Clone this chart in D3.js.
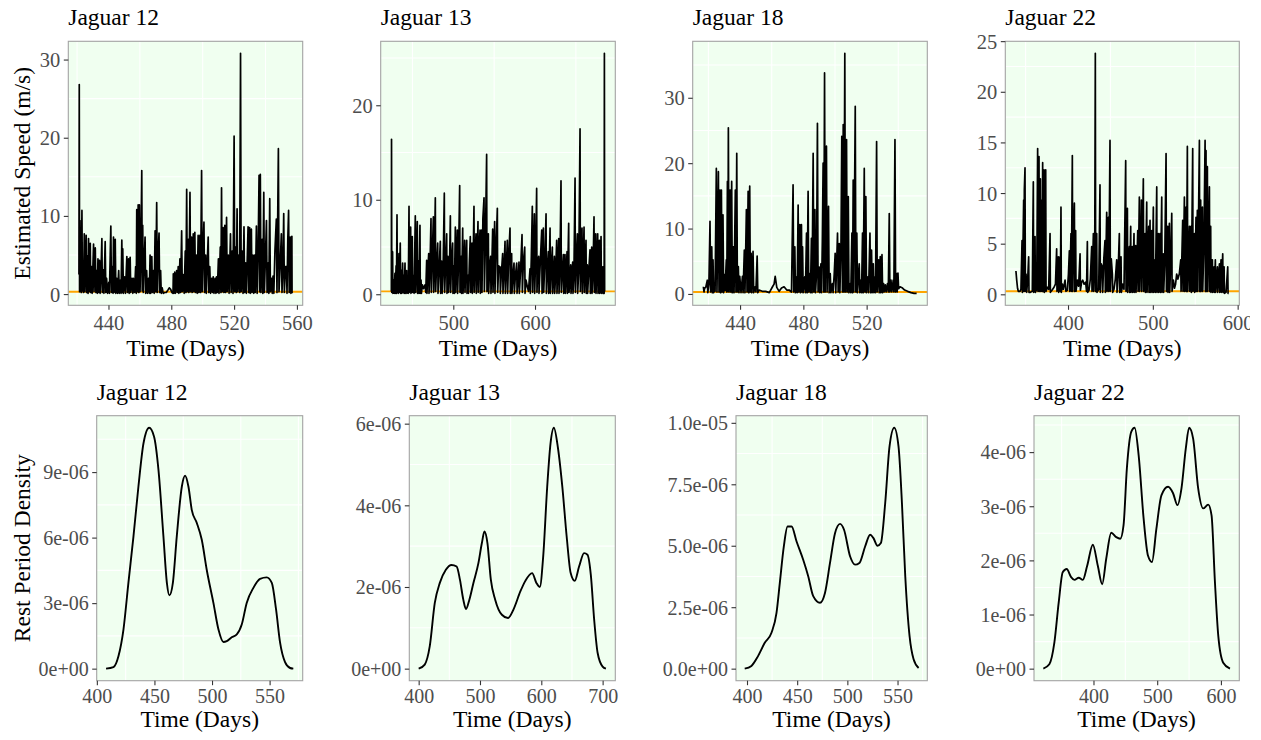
<!DOCTYPE html>
<html><head><meta charset="utf-8">
<script src="https://cdn.jsdelivr.net/npm/d3@7"></script>
<style>
body{margin:0;background:#fff}
svg{display:block}
text{font-family:"Liberation Serif","Times New Roman",serif}
</style>
</head><body>
<svg id="c" width="1261" height="740"></svg>
<script>
// ---------------- DATA ----------------
const jaguars = ["Jaguar 12", "Jaguar 13", "Jaguar 18", "Jaguar 22"];
const restThreshold = 0.3; // orange reference line (m/s)

// Estimated speed (m/s) over time (days): [day, speed]
const speed12 = [[421.2,2.5],[421.4,26.8],[421.6,0.3],[421.9,9.4],[422.1,0.5],[422.4,5.2],[422.7,0.2],[423.1,10.7],[423.4,0.4],[423.8,4.0],[424.1,0.2],[424.6,7.7],[424.9,0.3],[425.3,3.2],[425.8,7.5],[426.1,0.2],[426.6,4.9],[427,0.1],[427.3,7.1],[427.7,0.3],[428.4,6.5],[428.7,0.2],[429.2,3.5],[429.6,0.1],[430.5,6.4],[430.8,0.3],[431.2,4.6],[431.6,5.9],[432,0.2],[432.5,3.0],[432.9,0.1],[433.3,4.5],[433.7,0.2],[434.3,4.3],[434.7,0.1],[435.2,2.5],[435.8,7.1],[436.1,0.2],[436.7,3.1],[437.1,0.1],[437.9,6.7],[438.3,0.2],[438.8,2.0],[439.4,0.1],[440.2,1.5],[440.6,0.1],[441.5,8.7],[441.9,0.2],[442.5,3.5],[442.9,0.1],[443.2,7.3],[443.6,0.2],[444.3,7.0],[444.7,0.1],[445.3,2.0],[445.8,0.1],[446.5,3.0],[446.9,0.1],[447.6,1.8],[448,0.1],[448.5,6.9],[448.9,0.2],[449.1,5.8],[449.5,0.1],[450.3,2.2],[450.8,0.1],[451.7,4.8],[452.1,0.2],[452.8,4.5],[453.2,0.1],[453.8,4.7],[454.2,0.2],[455,2.0],[455.5,0.1],[455.9,2.0],[456.6,0.2],[457.3,3.5],[457.7,0.1],[458,10.8],[458.4,0.3],[458.9,11.4],[459.3,0.2],[459.7,11.4],[460.1,0.3],[460.6,5.0],[461.2,15.8],[461.5,0.4],[461.8,8.8],[462.2,0.2],[462.7,4.0],[463.3,7.3],[463.7,0.1],[464.3,3.0],[464.8,0.1],[465.5,2.0],[466,0.1],[466.5,5.0],[466.9,0.1],[467.6,4.8],[468,0.2],[468.7,3.0],[469.1,0.1],[469.7,8.1],[470.1,0.3],[470.7,11.7],[471.1,0.2],[471.6,5.0],[472.2,7.8],[472.6,0.2],[473.2,3.0],[473.6,0.1],[474.2,0.8],[474.9,0.1],[475.8,0.2],[476.8,0.2],[477.8,0.5],[478.7,0.8],[479.6,0.6],[480.4,0.2],[481.1,0.1],[481.3,2.6],[481.7,0.1],[482.2,2.8],[482.6,0.1],[483.4,3.0],[483.8,0.2],[484.4,3.5],[484.8,0.1],[485.5,4.5],[485.9,0.2],[486.6,8.1],[487,0.3],[487.6,2.5],[488.2,0.1],[488.9,5.5],[489.3,0.2],[489.8,13.4],[490.2,0.3],[490.8,7.0],[491.2,0.2],[491.9,13.0],[492.3,0.3],[492.9,7.3],[493.3,0.2],[494,7.7],[494.4,0.3],[495,7.9],[495.4,0.2],[496,5.0],[496.5,0.1],[497.1,7.5],[497.5,0.2],[498.2,7.5],[498.6,0.2],[499.3,15.8],[499.7,0.3],[500.2,5.5],[500.8,9.2],[501.2,0.2],[501.9,5.0],[502.3,0.1],[503,4.5],[503.5,7.3],[503.9,0.2],[504.5,3.5],[505,0.1],[505.7,2.0],[506.2,0.2],[506.7,2.2],[507.2,0.1],[507.9,2.0],[508.4,0.1],[508.8,2.2],[509.3,0.2],[510,4.5],[510.4,0.1],[511.2,6.0],[511.6,0.2],[512,13.6],[512.4,0.3],[513,8.5],[513.5,0.2],[514.1,8.8],[514.5,0.2],[515.2,9.8],[515.6,0.3],[516.3,5.0],[516.8,0.1],[517.7,7.7],[518.1,0.2],[518.8,5.5],[519.3,0.1],[520,20.2],[520.4,0.3],[521,6.0],[521.4,0.2],[521.9,10.9],[522.3,0.3],[523,5.0],[523.5,0.2],[524.1,30.8],[524.5,0.3],[525.2,5.5],[525.7,0.1],[526.3,8.6],[526.7,0.2],[527.4,4.0],[527.8,0.1],[528.9,8.6],[529.3,0.2],[529.9,8.5],[530.3,0.1],[531,8.3],[531.4,0.2],[532,5.0],[532.5,0.1],[533.1,5.0],[533.5,0.2],[534.2,8.7],[534.7,0.1],[535.4,7.0],[535.9,15.2],[536.3,0.3],[536.7,15.3],[537.1,0.2],[537.9,7.0],[538.3,0.1],[538.9,13.0],[539.3,0.2],[540,5.0],[540.6,9.4],[541,0.2],[541.7,4.0],[542.1,0.1],[542.7,12.2],[543.1,0.3],[543.8,2.0],[544.3,0.1],[544.8,2.3],[545.3,0.1],[546,5.5],[546.9,9.6],[547.3,0.2],[548.2,18.6],[548.6,0.3],[549.3,3.5],[550.1,7.7],[550.5,0.2],[551.1,3.5],[551.6,10.3],[552,0.2],[552.7,3.5],[553.3,3.5],[553.7,0.1],[554.2,7.0],[554.7,10.7],[555.1,0.2],[555.8,7.3],[556.2,0.1],[556.8,7.4],[556.9,0.1]];

const speed13 = [[424.2,0.3],[424.4,16.4],[424.7,0.2],[425.7,4.5],[426.1,0.1],[427.2,1.5],[427.6,0.1],[428.6,2.2],[429,0.1],[430,3.0],[430.4,0.1],[431.1,8.4],[431.5,0.2],[432.3,3.0],[432.7,0.1],[433.5,4.3],[433.9,0.2],[435.1,5.4],[435.5,0.1],[436.6,2.5],[437,0.1],[438,3.3],[438.4,0.2],[439.5,2.0],[439.9,0.1],[440.9,3.3],[441.3,0.1],[442.9,2.5],[443.3,0.1],[444.5,1.5],[444.9,0.1],[445.8,9.3],[446.2,0.2],[447.8,7.1],[448.2,0.1],[448.9,2.5],[449.8,6.1],[450.2,0.2],[451.5,2.0],[452,0.1],[453.5,8.3],[453.9,0.2],[454.8,3.0],[455.9,7.7],[456.3,0.1],[457.5,3.5],[458,0.1],[459.2,7.3],[459.6,0.1],[460.5,1.5],[461,0.1],[462.1,1.0],[463.5,0.6],[465.4,1.0],[466.3,0.2],[467.4,3.6],[467.8,0.1],[468.8,2.5],[469.9,4.3],[470.3,0.1],[471.5,3.0],[472.7,8.0],[473.1,0.2],[474.3,4.0],[475.6,8.2],[476,0.2],[477,4.5],[478,10.2],[478.4,0.3],[479.5,3.0],[480.9,5.4],[481.3,0.1],[482.6,2.5],[484.1,5.6],[484.5,0.1],[485.7,3.5],[486.4,0.1],[487.5,2.5],[489,10.7],[489.4,0.2],[490.5,3.0],[491.9,6.4],[492.3,0.1],[493.5,4.0],[494.2,0.2],[495.3,2.5],[496.4,8.3],[496.8,0.2],[497.8,3.5],[499.2,5.4],[499.6,0.1],[500.8,3.0],[501.3,0.1],[502.5,7.1],[502.9,0.2],[504.9,6.8],[505.3,0.1],[506.4,3.5],[507.8,11.5],[508.2,0.2],[509.6,4.0],[510.1,0.1],[511.5,7.0],[511.9,0.1],[513,2.5],[513.9,5.7],[514.3,0.2],[515.2,3.0],[516.4,5.7],[516.8,0.1],[518,2.0],[518.6,0.1],[519.7,3.5],[520.8,6.1],[521.2,0.2],[522.9,5.4],[523.3,0.1],[524.2,3.0],[525.3,9.3],[525.7,0.2],[526.7,4.0],[527.8,6.4],[528.2,0.1],[529.2,3.5],[530.2,7.7],[530.6,0.2],[531.6,4.5],[532.7,6.8],[533.1,0.1],[534.7,6.8],[535.1,0.2],[536.2,8.0],[537.6,10.2],[538,0.3],[539.2,5.0],[540.8,14.8],[541.2,0.3],[542.9,6.4],[543.3,0.1],[544.5,3.0],[545.7,4.0],[546.1,0.1],[547,2.5],[548.2,6.9],[548.6,0.2],[550.6,7.7],[551,0.1],[552.4,5.0],[553.9,9.1],[554.3,0.2],[555.5,3.0],[557.2,2.9],[557.6,0.1],[558.7,2.0],[560.4,4.3],[560.8,0.1],[562,2.5],[563.3,5.6],[563.7,0.1],[565,3.0],[566.1,5.7],[566.5,0.1],[567.8,4.0],[569.4,7.0],[569.8,0.1],[571.4,4.3],[571.8,0.1],[573,2.0],[574.3,3.3],[574.7,0.1],[576,2.0],[577.6,3.3],[578,0.1],[579.2,1.5],[580.4,3.4],[580.8,0.1],[582.3,2.5],[584.1,6.3],[584.5,0.2],[585.8,3.5],[587.4,5.0],[587.8,0.1],[589,1.5],[590.6,0.8],[592,0.3],[593.9,2.7],[594.3,0.1],[595.5,4.0],[596.7,9.3],[597.1,0.2],[599.2,8.5],[599.6,0.1],[600.8,4.0],[602,11.2],[602.4,0.2],[603.3,3.0],[604.5,4.0],[604.9,0.1],[606.5,3.5],[608.2,6.8],[608.6,0.1],[610.2,7.0],[610.6,0.2],[612,3.5],[613.5,8.5],[613.9,0.1],[615,2.5],[616.3,4.5],[616.7,0.1],[618.4,7.0],[618.8,0.1],[620,3.0],[621.2,5.0],[621.6,0.1],[623.7,4.0],[624.1,0.1],[625.2,2.0],[626.5,5.7],[626.9,0.1],[629,5.9],[629.4,0.1],[630.5,3.0],[631.8,12.0],[632.2,0.2],[633.5,2.5],[634.7,4.2],[635.1,0.1],[636.7,4.2],[637.1,0.1],[639.2,4.5],[639.6,0.1],[641.2,7.5],[641.6,0.2],[643.7,3.1],[644.1,0.1],[646.1,3.4],[646.5,0.1],[647.6,2.0],[649,12.3],[649.4,0.2],[650.5,3.5],[651.8,6.4],[652.2,0.1],[653.5,2.5],[655.1,17.5],[655.5,0.3],[656.3,4.0],[657.5,7.0],[657.9,0.1],[660,7.1],[660.4,0.2],[662.4,5.7],[662.8,0.1],[664,3.1],[664.4,0.1],[665.8,2.5],[667.3,4.7],[667.7,0.1],[669.4,5.0],[669.8,0.1],[671,2.5],[672.2,8.2],[672.6,0.2],[674.3,6.4],[674.7,0.1],[676.7,6.4],[677.1,0.1],[678.7,5.7],[679.1,0.1],[680.8,6.1],[681.2,0.1],[682.8,2.9],[683.2,0.1],[684.6,0.1],[684.9,25.5],[685.2,0.3]];

const speed18 = [[416.8,1.1],[417.2,0.3],[417.6,0.9],[418.3,1.0],[419.3,2.1],[419.6,0.2],[420.3,1.5],[421,11.1],[421.4,0.3],[422.1,7.2],[422.5,0.2],[422.9,5.2],[423.3,0.2],[423.8,1.5],[424.2,0.4],[425,19.2],[425.4,0.3],[426.3,18.7],[426.7,0.3],[427.3,15.9],[427.7,0.2],[428.2,15.9],[428.6,0.3],[429.2,12.1],[429.6,0.2],[430,3.0],[430.5,0.5],[431.3,5.2],[431.6,0.3],[432,17.2],[432.3,0.4],[432.6,25.4],[433,0.3],[433.7,15.9],[434.1,0.3],[434.7,17.2],[435.1,0.2],[435.8,7.2],[436.2,0.2],[437,15.9],[437.4,0.3],[437.9,21.5],[438.3,0.3],[438.9,4.2],[439.3,0.2],[439.8,2.7],[440.6,0.2],[441.5,2.7],[441.9,0.2],[442.7,6.7],[443.1,0.2],[444,12.9],[444.4,0.3],[445.1,15.7],[445.5,0.2],[446.1,16.5],[446.5,0.3],[447,6.2],[447.4,0.2],[448.2,6.5],[448.6,0.2],[449.5,1.1],[450,0.3],[450.8,5.8],[451.2,0.2],[452,0.6],[454,0.4],[456.2,0.4],[458.5,0.2],[460.5,1.1],[461.5,1.5],[462.2,2.7],[463.2,1.0],[464.7,0.4],[466.2,0.9],[467.8,1.1],[469.5,0.6],[471,0.6],[472.5,0.3],[473.5,16.7],[473.9,0.3],[474.6,7.2],[475,0.2],[475.7,2.6],[476.1,0.2],[476.7,13.6],[477.1,0.3],[477.8,10.6],[478.2,0.2],[478.8,10.6],[479.1,0.3],[479.5,7.2],[479.9,0.2],[480.9,2.6],[481.3,0.2],[482,9.3],[482.4,0.2],[483,15.7],[483.4,0.3],[484.1,3.1],[484.5,0.2],[485.1,8.5],[485.5,0.2],[486.2,21.5],[486.6,0.3],[487.3,12.9],[487.7,0.2],[488.3,3.0],[488.9,26.1],[489.3,0.3],[490,4.1],[490.4,0.2],[491.1,4.6],[491.5,0.2],[492,8.0],[492.5,20.0],[492.9,0.3],[493.4,33.8],[493.8,0.3],[494.6,22.6],[495,0.3],[495.9,13.4],[496.3,0.2],[497,3.1],[497.4,0.2],[498.4,1.6],[498.8,0.2],[499.5,3.0],[500.1,6.2],[500.5,0.2],[501.6,9.3],[502,0.3],[502.7,7.7],[503.1,0.2],[503.8,8.0],[504.3,24.1],[504.7,0.3],[505.2,25.9],[505.6,0.3],[506.2,36.8],[506.6,0.3],[507.3,23.6],[507.7,0.3],[508.4,14.9],[508.8,0.2],[509.6,1.6],[510,0.2],[510.7,9.3],[511.1,0.2],[511.5,17.4],[511.9,0.3],[512.8,28.7],[513.2,0.3],[513.8,9.3],[514.2,0.2],[515.3,4.6],[515.7,0.2],[516.4,2.1],[516.8,0.2],[517.4,9.3],[517.8,0.2],[518.5,19.2],[518.9,0.3],[519.5,14.9],[519.9,0.2],[520.8,2.6],[521.2,0.2],[522.1,9.3],[522.5,0.2],[523.1,6.7],[523.5,0.2],[524.2,4.6],[524.6,0.2],[525.2,2.6],[525.6,0.2],[526.3,23.3],[526.7,0.3],[527.6,5.2],[528,0.2],[528.6,5.7],[529,0.2],[529.7,6.0],[530.1,0.2],[530.7,1.6],[531.1,0.3],[531.8,1.4],[532.3,0.3],[533.2,1.6],[533.7,0.3],[534.3,12.3],[534.7,0.3],[535.4,2.1],[535.9,0.3],[536.8,2.1],[537.2,0.3],[537.9,23.6],[538.3,0.3],[538.9,3.1],[539.3,0.3],[539.8,3.2],[540.2,0.8],[541.1,1.1],[542.7,0.9],[544,0.6],[545.9,0.4],[548,0.2],[550,0.1],[551.6,0.1]];

const speed22 = [[338.6,2.3],[339.5,1.4],[340.5,0.6],[341.4,0.3],[343.4,0.3],[344.5,0.5],[345.8,5.3],[346.2,0.2],[347.7,9.3],[348.1,0.3],[348.5,10.3],[349.3,12.5],[349.7,0.3],[350.5,2.0],[351.3,0.2],[352.5,1.5],[353.6,3.7],[354,0.2],[355.6,0.2],[357.9,0.3],[359.1,11.1],[359.5,0.2],[360.3,1.5],[361.1,5.7],[361.5,0.2],[363.1,0.5],[364.2,14.4],[364.6,0.3],[365.8,13.6],[366.2,0.3],[367.4,11.4],[367.8,0.3],[369,9.3],[369.4,0.3],[370.1,13.0],[370.5,0.3],[371.7,12.3],[372.1,0.2],[373.7,12.3],[374.1,0.3],[375.6,0.7],[377.2,0.5],[378.8,6.0],[379.2,0.2],[381.1,0.4],[383.5,0.7],[385.2,1.0],[386.6,4.5],[387,0.3],[388.6,3.7],[389,0.2],[390.6,3.7],[391,0.3],[391.7,8.6],[392.1,0.2],[393.3,1.0],[394.5,0.5],[396.5,1.4],[397.5,0.3],[399.2,0.4],[400.5,2.0],[401.6,4.3],[402,0.3],[403.5,6.0],[403.9,0.3],[405.1,13.7],[405.5,0.3],[406.3,5.0],[407.5,9.0],[407.9,0.3],[409,6.3],[409.4,0.3],[411,1.4],[412.5,0.8],[414.2,4.0],[414.6,0.4],[416,1.2],[417.3,1.4],[419,1.0],[420.8,1.2],[421.8,0.3],[422.8,5.2],[423.2,0.2],[424.8,0.4],[426.3,1.5],[427.9,4.7],[428.3,0.3],[429.9,6.0],[430.3,0.3],[431.5,4.0],[432.2,23.8],[432.6,0.3],[433.8,6.0],[434.2,0.2],[436.2,0.5],[437.7,10.8],[438.1,0.2],[439.2,3.0],[440.5,2.7],[440.9,0.2],[442.2,3.5],[443.6,5.3],[444,0.2],[445.6,8.1],[446,0.3],[447.6,7.6],[448,0.3],[449.5,15.2],[449.9,0.3],[451,3.5],[452.3,2.0],[452.7,0.2],[454.2,0.5],[455.8,1.5],[457.4,3.4],[457.8,0.2],[459,2.0],[460.5,6.0],[460.9,0.2],[462.5,3.7],[462.9,0.2],[464.5,1.0],[466,0.5],[468,13.2],[468.4,0.3],[470,8.5],[470.4,0.2],[471.2,2.5],[472.3,4.7],[472.7,0.2],[473.9,6.7],[474.3,0.2],[475.9,4.7],[476.3,0.2],[477.8,6.0],[478.2,0.2],[479.8,4.8],[480.2,0.2],[481.2,3.0],[482.2,6.3],[482.6,0.3],[484.1,9.6],[484.5,0.3],[485.5,4.0],[486.5,9.3],[486.9,0.3],[488.8,11.4],[489.2,0.3],[490.8,6.0],[491.2,0.2],[492.8,9.1],[493.2,0.2],[495.1,6.7],[495.5,0.2],[496.7,7.3],[497.1,0.2],[498.7,6.3],[499.1,0.2],[500.6,8.6],[501,0.2],[502.6,3.4],[503,0.2],[504.6,10.6],[505,0.2],[506.5,6.0],[506.9,0.2],[508.5,6.0],[508.9,0.2],[510.5,9.6],[510.9,0.2],[512.4,4.0],[512.8,0.2],[514,3.0],[515.6,13.9],[516,0.3],[517.5,6.7],[517.9,0.2],[519.5,7.0],[519.9,0.2],[521,3.0],[522.3,8.0],[522.7,0.3],[524.2,1.4],[525.5,0.6],[526.8,1.0],[528.1,2.0],[529.5,1.5],[531.2,2.0],[532.9,3.4],[533.3,0.3],[535.2,7.3],[535.6,0.3],[537.2,9.6],[537.6,0.3],[539.2,8.6],[539.6,0.3],[540.7,14.6],[541.1,0.3],[543.1,6.7],[543.5,0.3],[545,6.7],[545.4,0.2],[547,14.4],[547.4,0.3],[549,6.0],[549.4,0.2],[550.9,7.6],[551.3,0.3],[552.5,8.3],[552.9,0.3],[554.9,15.2],[555.3,0.3],[556.4,9.3],[556.8,0.3],[558.4,8.6],[558.8,0.3],[560.2,5.0],[561.6,15.2],[562,0.3],[562.7,14.2],[563.1,0.3],[564.3,12.6],[564.7,0.3],[566.7,10.6],[567.1,0.3],[568.2,6.7],[568.6,0.2],[570.2,3.4],[570.6,0.2],[572.2,2.7],[572.6,0.2],[573.7,3.4],[574.1,0.2],[576.1,2.7],[576.5,0.2],[578.5,3.0],[578.9,0.2],[580.4,3.4],[580.8,0.2],[582.4,4.0],[582.8,0.2],[584,2.7],[584.4,0.1],[586.3,0.2],[588.3,2.7],[588.7,0.1],[589.4,0.1]];

// Rest period density (values in units of 1e-6): [day, density]
const densUnit = 1e-6;
const dens12 = [[408.0,0],[414.4,0.07],[418.8,0.58],[423.1,1.79],[427.4,3.93],[431.8,6.06],[436.1,8.34],[440.5,10.32],[445.4,11.03],[449.7,10.62],[453.5,9.1],[457.8,6.06],[460.8,3.93],[463,3.36],[466,3.93],[469.4,6.06],[473.8,8.34],[476.6,8.83],[479.5,8.34],[482.4,7.27],[486.8,6.67],[491.1,5.9],[495.4,4.53],[501.2,3.01],[505.6,1.79],[509.9,1.22],[512.8,1.26],[517.1,1.44],[521.5,1.57],[525.8,2.02],[530.1,3.01],[535.9,3.7],[541.7,4.11],[547.5,4.18],[551.9,3.93],[555.6,2.71],[559.1,1.19],[563.4,0.3],[567.8,0.03],[570.6,0]];
const dens13 = [[400,0],[409.9,0.1],[418.1,0.55],[426.3,1.61],[434.5,2.1],[444.3,2.42],[453.6,2.54],[461.9,2.5],[467.3,2.18],[472.8,1.69],[477.2,1.46],[482.7,1.69],[489.3,2.1],[497.5,2.59],[503,3.07],[507.3,3.36],[512.2,3.07],[517.7,2.18],[524.8,1.69],[535.7,1.32],[545.6,1.24],[554.9,1.46],[565.8,1.89],[574,2.15],[585,2.34],[592,2.1],[597.5,2.0],[603.1,2.75],[609.6,4.45],[615,5.51],[620.5,5.9],[627.1,5.41],[634.3,4.45],[641.4,3.23],[647.9,2.34],[654.5,2.15],[661.6,2.5],[669.8,2.83],[675.3,2.79],[680.8,2.29],[686.2,1.2],[691.8,0.39],[700,0.05],[705.4,0]];
const dens18 = [[397.7,0],[404.4,0.11],[411,0.51],[417.7,1.05],[424.4,1.46],[429.4,2.27],[432.7,3.49],[436.7,4.97],[440.4,5.78],[444.4,5.78],[449.4,5.17],[456,4.43],[461,3.76],[466,2.95],[472.7,2.68],[477.7,3.08],[482.7,4.3],[487.7,5.51],[492.7,5.89],[496.7,5.65],[502.7,4.57],[507.7,4.23],[512,4.3],[517.7,4.97],[522.7,5.45],[526,5.31],[530,5.0],[533.4,5.11],[537.7,6.73],[542,9.03],[546.7,9.8],[551,9.03],[554.4,6.73],[557.7,3.76],[562,1.32],[566,0.38],[571,0.03]];
const dens22 = [[321.3,0],[330.7,0.08],[338.6,0.48],[345.4,1.22],[351.7,1.78],[358,1.84],[364.9,1.69],[370.1,1.64],[376.9,1.68],[383.2,1.64],[390.1,1.9],[399,2.29],[406.8,1.9],[413.7,1.56],[420,2.03],[427.9,2.51],[435.7,2.43],[442,2.4],[447.2,2.65],[452.4,3.7],[459.4,4.38],[464.6,4.45],[470.9,3.94],[478.7,2.77],[485.5,2.09],[491.8,1.97],[498.7,2.58],[506.6,3.2],[517,3.36],[524.9,3.24],[531.8,3.02],[538.1,3.33],[544.9,4.07],[550.1,4.45],[556.4,4.25],[564.3,3.33],[572.1,2.96],[580,3.03],[585.3,2.83],[590.6,1.6],[595.9,0.6],[603.6,0.11],[614.2,0]];

// Tick values / labels
const speedXTicks = [[440,480,520,560],[500,600],[440,480,520],[400,500,600]];
const speedYTicks = [[0,10,20,30],[0,10,20],[0,10,20,30],[0,5,10,15,20,25]];
const densXTicks  = [[400,450,500,550],[400,500,600,700],[400,450,500,550],[400,500,600]];
const densYTicks  = [[0,3e-6,6e-6,9e-6],[0,2e-6,4e-6,6e-6],[0,2.5e-6,5e-6,7.5e-6,1e-5],[0,1e-6,2e-6,3e-6,4e-6]];
const densYLabels = [["0e+00","3e-06","6e-06","9e-06"],["0e+00","2e-06","4e-06","6e-06"],["0.0e+00","2.5e-06","5.0e-06","7.5e-06","1.0e-05"],["0e+00","1e-06","2e-06","3e-06","4e-06"]];

const xTitle = "Time (Days)";
const speedYTitle = "Estimated Speed (m/s)";
const densYTitle = "Rest Period Density";

// ---------------- LAYOUT ----------------
const topRow = {y0: 41.3, y1: 305.3, lefts: [68.3, 380.7, 692.7, 1005.3], rights: [302.7, 615.3, 927.3, 1239.3]};
const botRow = {y0: 415.7, y1: 680.7, lefts: [96.7, 409.3, 736, 1034], rights: [302.7, 615.3, 927.3, 1239.3]};

const svg = d3.select("#c");
svg.append("clipPath").attr("id", "canvasClip").append("rect").attr("x", 0).attr("y", 0).attr("width", 1250).attr("height", 740);
const root = svg.append("g").attr("clip-path", "url(#canvasClip)");
const C = {bg: "#F0FFF0", grid: "#FFFFFF", border: "#A3A3A3", tick: "#333333", tickText: "#4D4D4D"};

function expand(ext) { const r = ext[1] - ext[0]; return [ext[0] - 0.05 * r, ext[1] + 0.05 * r]; }
function minorBreaks(ticks, dom) {
  const out = [];
  const step = ticks.length > 1 ? ticks[1] - ticks[0] : 1;
  const ext = [ticks[0] - step].concat(ticks, [ticks[ticks.length - 1] + step]);
  for (let i = 0; i < ext.length - 1; i++) {
    const m = (ext[i] + ext[i + 1]) / 2;
    if (m >= dom[0] && m <= dom[1]) out.push(m);
  }
  return out;
}

function panel(opt) {
  const {x0, x1, y0, y1, data, xTicks, yTicks, yLabels, hline, curve, lw, title, yTitle, xTitleY, tickFont, tickPad} = opt;
  const xDom = expand(d3.extent(data, d => d[0]));
  const yVals = data.map(d => d[1]).concat(hline != null ? [hline] : []);
  const yDom = expand(d3.extent(yVals));
  const x = d3.scaleLinear().domain(xDom).range([x0, x1]);
  const y = d3.scaleLinear().domain(yDom).range([y1, y0]);
  const g = root.append("g");
  g.append("rect").attr("x", x0).attr("y", y0).attr("width", x1 - x0).attr("height", y1 - y0).attr("fill", C.bg);
  minorBreaks(xTicks, xDom).forEach(v => g.append("line").attr("x1", x(v)).attr("x2", x(v)).attr("y1", y0).attr("y2", y1).attr("stroke", C.grid).attr("stroke-width", 1.1));
  minorBreaks(yTicks, yDom).forEach(v => g.append("line").attr("y1", y(v)).attr("y2", y(v)).attr("x1", x0).attr("x2", x1).attr("stroke", C.grid).attr("stroke-width", 1.1));
  const clipId = "clip" + Math.round(x0) + "_" + Math.round(y0);
  svg.append("clipPath").attr("id", clipId).append("rect").attr("x", x0).attr("y", y0).attr("width", x1 - x0).attr("height", y1 - y0);
  const pg = g.append("g").attr("clip-path", `url(#${clipId})`);
  if (hline != null) {
    pg.append("line").attr("x1", x0).attr("x2", x1).attr("y1", y(hline)).attr("y2", y(hline)).attr("stroke", "#FFA500").attr("stroke-width", 1.8);
  }
  pg.append("path").datum(data).attr("fill", "none").attr("stroke", "#000").attr("stroke-width", lw).attr("stroke-linejoin", "round")
    .attr("d", d3.line().x(d => x(d[0])).y(d => y(d[1])).curve(curve));
  g.append("rect").attr("x", x0).attr("y", y0).attr("width", x1 - x0).attr("height", y1 - y0).attr("fill", "none").attr("stroke", C.border).attr("stroke-width", 1.1);
  const xa = g.append("g").attr("transform", `translate(0,${y1})`).call(d3.axisBottom(x).tickValues(xTicks).tickSize(4.5).tickPadding(tickPad).tickFormat(d3.format("d")));
  const ya = g.append("g").attr("transform", `translate(${x0},0)`).call(d3.axisLeft(y).tickValues(yTicks).tickSize(4.5).tickPadding(3.5).tickFormat((d, i) => yLabels ? yLabels[i] : d3.format("d")(d)));
  [xa, ya].forEach(a => {
    a.select(".domain").remove();
    a.selectAll(".tick line").attr("stroke", C.tick).attr("stroke-width", 1.1);
    a.selectAll(".tick text").attr("fill", C.tickText).attr("font-size", tickFont).attr("font-family", "Liberation Serif");
  });
  xa.selectAll(".tick text").attr("dy", "0.78em");
  ya.selectAll(".tick text").attr("dy", "0.34em");
  g.append("text").attr("x", x0).attr("y", y0 - 16).attr("font-size", 23.5).attr("fill", "#000").text(title);
  g.append("text").attr("x", (x0 + x1) / 2).attr("y", xTitleY).attr("text-anchor", "middle").attr("font-size", 23.5).attr("fill", "#000").text(xTitle);
  if (yTitle) {
    g.append("text").attr("transform", `translate(29.5,${(y0 + y1) / 2}) rotate(-90)`).attr("text-anchor", "middle").attr("font-size", 23.5).attr("fill", "#000").text(yTitle);
  }
}

const speedSeries = [speed12, speed13, speed18, speed22];
const densSeries = [dens12, dens13, dens18, dens22].map(s => s.map(d => [d[0], d[1] * densUnit]));

speedSeries.forEach((s, i) => panel({
  x0: topRow.lefts[i], x1: topRow.rights[i], y0: topRow.y0, y1: topRow.y1,
  data: s, xTicks: speedXTicks[i], yTicks: speedYTicks[i], yLabels: null,
  hline: restThreshold, curve: d3.curveLinear, lw: 1.7, title: jaguars[i],
  yTitle: i === 0 ? speedYTitle : null, xTitleY: 356, tickFont: 20.5, tickPad: 4
}));
densSeries.forEach((s, i) => panel({
  x0: botRow.lefts[i], x1: botRow.rights[i], y0: botRow.y0, y1: botRow.y1,
  data: s, xTicks: densXTicks[i], yTicks: densYTicks[i], yLabels: densYLabels[i],
  hline: null, curve: d3.curveMonotoneX, lw: 1.9, title: jaguars[i],
  yTitle: i === 0 ? densYTitle : null, xTitleY: 727, tickFont: 20, tickPad: 2.5
}));
</script>
</body></html>
